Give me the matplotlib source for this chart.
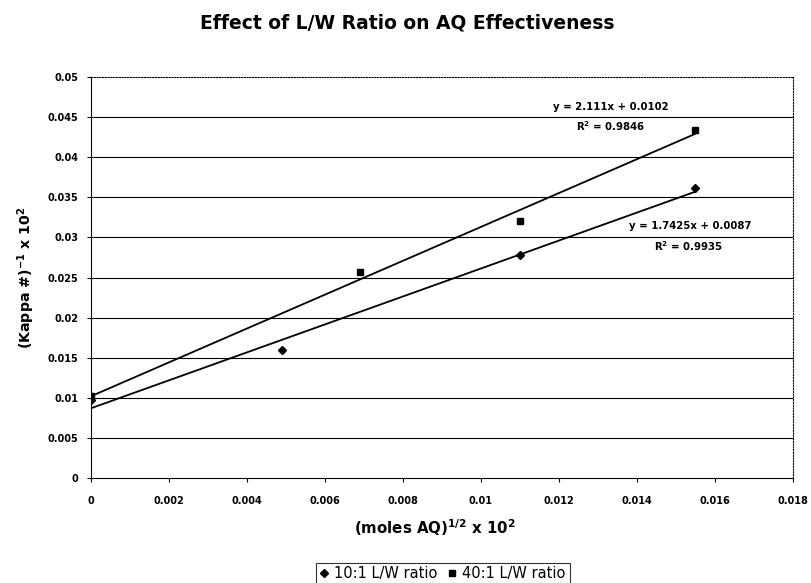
import numpy as np
import matplotlib
matplotlib.use("Agg")
import matplotlib.pyplot as plt

plt.rcParams['font.family'] = ['DejaVu Sans']
plt.rcParams['font.weight'] = 'bold'
plt.rcParams['mathtext.fontset'] = 'custom'
plt.rcParams['mathtext.rm'] = 'DejaVu Sans:bold'
plt.rcParams['mathtext.bf'] = 'DejaVu Sans:bold'

# ── Data ─────────────────────────────────────────────────────────
x_10 = [0.0, 0.0049, 0.011, 0.0155]
y_10 = [0.0097, 0.0160, 0.0278, 0.0362]
x_40 = [0.0, 0.0069, 0.011, 0.0155]
y_40 = [0.0102, 0.0257, 0.0321, 0.0434]

# trendline coefficients shown on the chart
fit_10 = (1.7425, 0.0087)
fit_40 = (2.111, 0.0102)

x_ticks = np.arange(0, 0.0181, 0.002)
y_ticks = np.arange(0, 0.0501, 0.005)

def fmt(v):
    return ("%.3f" % v).rstrip("0").rstrip(".") if v > 0 else "0"

fig = plt.figure(figsize=(8.11, 5.83), dpi=100)
ax = fig.add_axes([0.1122, 0.180, 0.8656, 0.688])

# gridlines
for yv in y_ticks[1:-1]:
    ax.axhline(yv, color="black", linewidth=0.8, zorder=1)

# trendlines
xl = np.array([0.0, 0.0155])
ax.plot(xl, fit_40[0] * xl + fit_40[1], color="black", linewidth=1.3, zorder=2)
ax.plot(xl, fit_10[0] * xl + fit_10[1], color="black", linewidth=1.3, zorder=2)

# points
h10, = ax.plot(x_10, y_10, linestyle="none", marker="D", markersize=4.5,
               color="black", label="10:1 L/W ratio", zorder=3)
h40, = ax.plot(x_40, y_40, linestyle="none", marker="s", markersize=5,
               color="black", label="40:1 L/W ratio", zorder=3)

ax.set_xlim(0, 0.018)
ax.set_ylim(0, 0.05)
ax.set_xticks(x_ticks)
ax.set_yticks(y_ticks)
ax.set_xticklabels([fmt(v) for v in x_ticks], fontsize=7, fontweight="bold")
ax.set_yticklabels([fmt(v) for v in y_ticks], fontsize=7, fontweight="bold")
ax.tick_params(direction="out", length=3, width=0.8, pad=10, axis="x")
ax.tick_params(direction="out", length=3, width=0.8, pad=6, axis="y")

for s in ["top", "right"]:
    ax.spines[s].set_linestyle((0, (1, 1.5)))
    ax.spines[s].set_linewidth(0.8)

# trendline equations
ax.text(0.01333, 0.0463, "y = 2.111x + 0.0102", fontsize=7.3, fontweight="bold",
        ha="center", va="center")
ax.text(0.01333, 0.0439, "R$^{2}$ = 0.9846", fontsize=7.3, fontweight="bold",
        ha="center", va="center")
ax.text(0.01536, 0.0314, "y = 1.7425x + 0.0087", fontsize=7.3, fontweight="bold",
        ha="center", va="center")
ax.text(0.01533, 0.0289, "R$^{2}$ = 0.9935", fontsize=7.3, fontweight="bold",
        ha="center", va="center")

fig.suptitle("Effect of L/W Ratio on AQ Effectiveness", fontsize=13.5,
             fontweight="bold", x=0.502, y=0.9605, va="center")

ax.set_xlabel("(moles AQ)$^{1/2}$ x 10$^{2}$", fontsize=10.8, fontweight="bold",
              va="center")
ax.xaxis.set_label_coords(0.49, -0.1247)
ax.set_ylabel("(Kappa #)$^{-1}$ x 10$^{2}$", fontsize=10.2, fontweight="bold",
              va="center")
ax.yaxis.set_label_coords(-0.0926, 0.5)

leg = fig.legend(handles=[h10, h40], loc="center", bbox_to_anchor=(0.546, 0.016),
                 ncol=2, prop={"size": 10.5, "weight": "normal"}, frameon=True,
                 fancybox=False, handlelength=0.6, handletextpad=0.4,
                 columnspacing=0.7, borderpad=0.25, markerscale=0.8)
leg.get_frame().set_edgecolor("black")
leg.get_frame().set_linewidth(0.8)

fig.savefig("out.png", dpi=100)
